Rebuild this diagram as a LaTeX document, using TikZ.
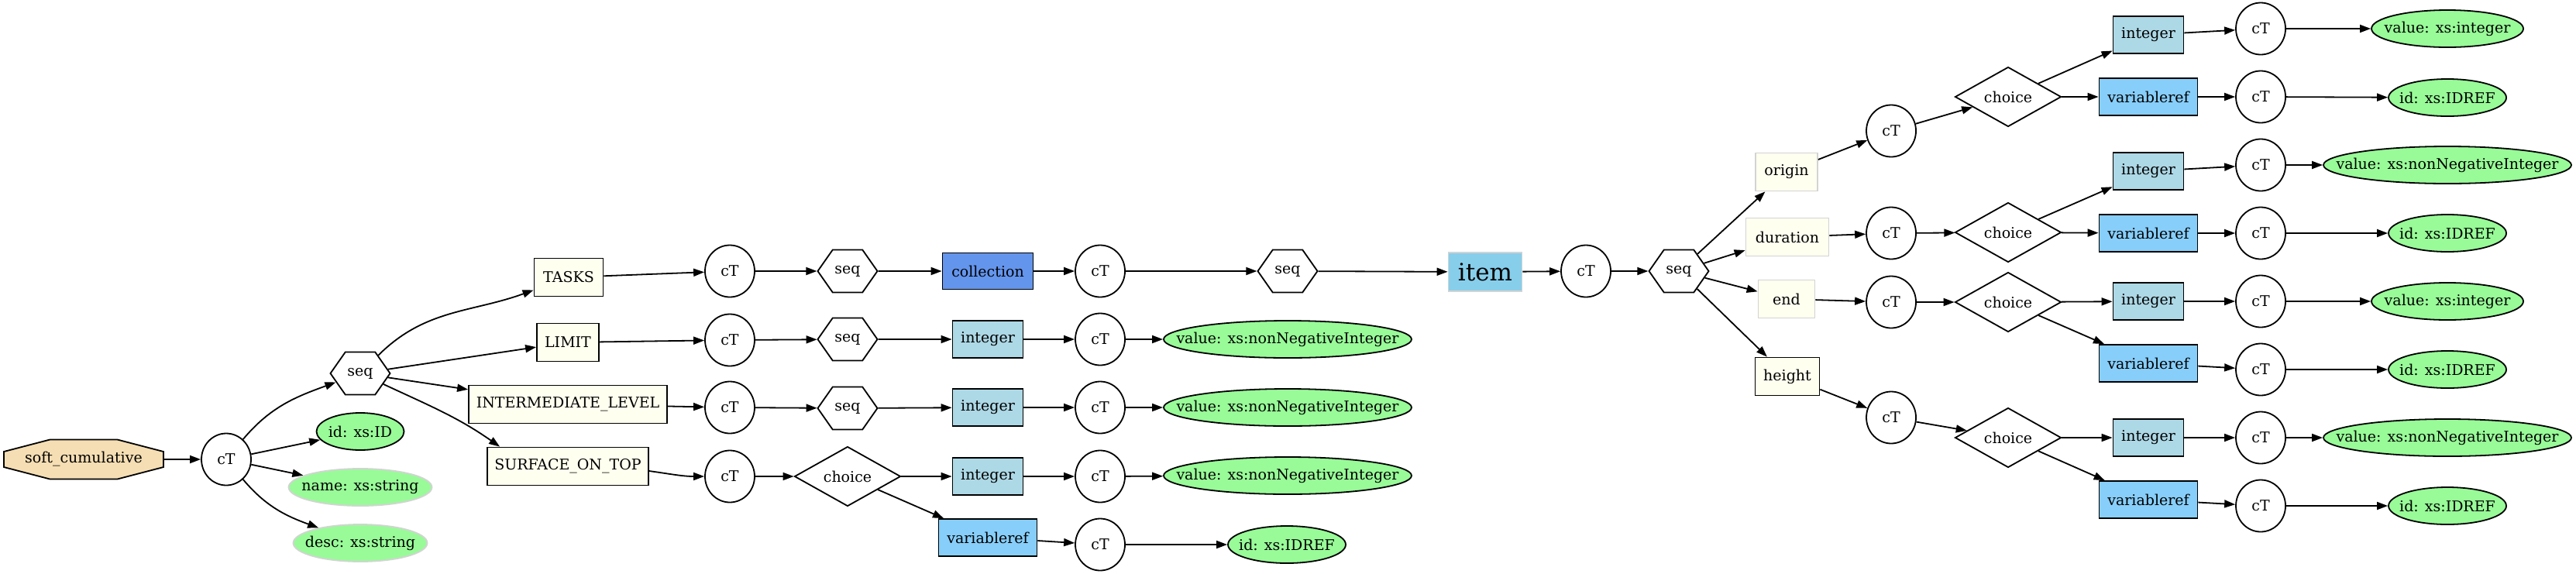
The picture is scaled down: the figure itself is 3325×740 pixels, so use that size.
\documentclass[tikz,border=0pt]{standalone}
\usepackage{fontspec}
\setmainfont{DejaVu Serif}
\usetikzlibrary{shapes.geometric,shapes.symbols,arrows.meta}
\definecolor{wheatc}{HTML}{F5DEB3}
\definecolor{ivoryc}{HTML}{FFFFF0}
\definecolor{cornflower}{HTML}{6495ED}
\definecolor{lblue}{HTML}{ADD8E6}
\definecolor{lskyblue}{HTML}{87CEFA}
\definecolor{skyb}{HTML}{87CEEB}
\definecolor{pgreen}{HTML}{98FB98}
\definecolor{lgrey}{HTML}{D3D3D3}
\begin{document}
\begin{tikzpicture}[x=1pt,y=1pt,
  base/.style={font=\fontsize{19}{23}\selectfont, inner sep=0pt, line width=1.8pt, text=black},
  zerow/.style={execute at begin node={\hbox to 0pt\bgroup\hss}, execute at end node={\hss\egroup}},
  ct/.style={base, ellipse, draw, fill=white, minimum width=64pt, minimum height=67pt},
  hexa/.style={base, signal, signal to=east and west, signal pointer angle=110, draw, fill=white, minimum width=77pt, minimum height=55pt},
  chc/.style={base, diamond, draw, fill=white, minimum width=137pt, minimum height=66pt},
  octlabel/.style={base, rectangle, minimum width=206pt, minimum height=51pt},
  leaf/.style={base, zerow, ellipse, draw, fill=pgreen, minimum height=48pt},
  leafg/.style={base, zerow, ellipse, draw=lgrey, fill=pgreen, minimum height=48pt},
  elb/.style={base, rectangle, draw, fill=ivoryc, minimum height=49pt},
  elg/.style={base, rectangle, draw=lgrey, fill=ivoryc, minimum height=49pt},
  intb/.style={base, rectangle, draw, fill=lblue, minimum width=91pt, minimum height=48pt},
  vrb/.style={base, rectangle, draw, fill=lskyblue, minimum width=127pt, minimum height=48pt},
  arr/.style={line width=1.8pt, -{Triangle[length=14pt,width=10pt]}}
]
\useasboundingbox (0,0) rectangle (3325,-740);
% left group: octagon outline drawn under its label node
\draw[line width=1.8pt, fill=wheatc] (5,-583) -- (64.5,-567.5) -- (151.5,-567.5) -- (211,-583)
  -- (211,-603) -- (151.5,-618.5) -- (64.5,-618.5) -- (5,-603) -- cycle;
\node[octlabel] (sc) at (108,-593) {soft\_cumulative};
\node[ct] (c0) at (292,-593) {cT};
\node[hexa] (s0) at (465,-482) {seq};
\node[leaf, minimum width=113pt] (a0) at (465,-557) {id: xs:ID};
\node[leafg, minimum width=185pt] (a1) at (465,-629) {name: xs:string};
\node[leafg, minimum width=173pt] (a2) at (465,-701) {desc: xs:string};
\node[elb, minimum width=89pt] (tasks) at (734,-358) {TASKS};
\node[elb, minimum width=80pt] (limit) at (733,-442) {LIMIT};
\node[elb, minimum width=256pt] (il) at (733,-522) {INTERMEDIATE\_LEVEL};
\node[elb, minimum width=208pt] (sot) at (733,-602) {SURFACE\_ON\_TOP};
% middle rows
\node[ct] (c1) at (942,-350) {cT};
\node[ct] (c2) at (942,-439) {cT};
\node[ct] (c3) at (942,-526) {cT};
\node[ct] (c4) at (942,-615) {cT};
\node[hexa] (s1) at (1094,-350) {seq};
\node[hexa] (s2) at (1094,-438) {seq};
\node[hexa] (s3) at (1094,-527) {seq};
\node[chc] (h4) at (1094,-615) {choice};
\node[base, rectangle, draw, fill=cornflower, minimum width=117pt, minimum height=47pt] (coll) at (1275,-350) {collection};
\node[intb] (i2) at (1275,-438) {integer};
\node[intb] (i3) at (1275,-526) {integer};
\node[intb] (i4) at (1275,-615) {integer};
\node[vrb] (v4) at (1275,-694) {variableref};
\node[ct] (c5) at (1420,-350) {cT};
\node[ct] (c6) at (1420,-438) {cT};
\node[ct] (c7) at (1420,-526) {cT};
\node[ct] (c8) at (1420,-615) {cT};
\node[ct] (c8b) at (1420,-703) {cT};
\node[hexa] (s5) at (1662,-350) {seq};
\node[leaf, minimum width=320pt] (l6) at (1662,-438) {value: xs:nonNegativeInteger};
\node[leaf, minimum width=320pt] (l7) at (1662,-526) {value: xs:nonNegativeInteger};
\node[leaf, minimum width=320pt] (l8) at (1662,-614) {value: xs:nonNegativeInteger};
\node[leaf, minimum width=152pt] (l8b) at (1661,-703) {id: xs:IDREF};
\node[base, rectangle, draw=lgrey, fill=skyb, minimum width=95pt, minimum height=50pt, font=\fontsize{31}{36}\selectfont] (item) at (1917,-351) {item};
\node[ct] (c9) at (2047,-350) {cT};
\node[hexa] (s9) at (2167,-350) {seq};
\node[elg, minimum width=80pt] (orig) at (2306,-222) {origin};
\node[elg, minimum width=107pt] (dur) at (2307,-306) {duration};
\node[elg, minimum width=73pt] (endn) at (2306,-386) {end};
\node[elb, minimum width=83pt] (hgt) at (2307,-486) {height};
% origin group
\node[ct] (cto) at (2441,-169) {cT};
\node[chc] (cho) at (2592,-125) {choice};
\node[intb] (io) at (2773,-45) {integer};
\node[vrb] (vo) at (2773,-125) {variableref};
\node[ct] (cio) at (2918,-37) {cT};
\node[ct] (cvo) at (2918,-125) {cT};
\node[leaf, minimum width=196pt] (lio) at (3159,-37) {value: xs:integer};
\node[leaf, minimum width=152pt] (lvo) at (3159,-126) {id: xs:IDREF};
% duration group
\node[ct] (ctd) at (2441,-301) {cT};
\node[chc] (chd) at (2592,-300) {choice};
\node[intb] (idd) at (2773,-221) {integer};
\node[vrb] (vd) at (2773,-301) {variableref};
\node[ct] (cid) at (2918,-213) {cT};
\node[ct] (cvd) at (2918,-301) {cT};
\node[leaf, minimum width=320pt] (lid) at (3159,-213) {value: xs:nonNegativeInteger};
\node[leaf, minimum width=152pt] (lvd) at (3159,-301) {id: xs:IDREF};
% end group
\node[ct] (cte) at (2441,-390) {cT};
\node[chc] (che) at (2592,-390) {choice};
\node[intb] (ie) at (2773,-389) {integer};
\node[vrb] (ve) at (2773,-469) {variableref};
\node[ct] (cie) at (2918,-389) {cT};
\node[ct] (cve) at (2918,-477) {cT};
\node[leaf, minimum width=196pt] (lie) at (3159,-389) {value: xs:integer};
\node[leaf, minimum width=152pt] (lve) at (3159,-477) {id: xs:IDREF};
% height group
\node[ct] (cth) at (2441,-539) {cT};
\node[chc] (chh) at (2592,-565) {choice};
\node[intb] (ih) at (2773,-565) {integer};
\node[vrb] (vh) at (2773,-645) {variableref};
\node[ct] (cih) at (2918,-565) {cT};
\node[ct] (cvh) at (2918,-653) {cT};
\node[leaf, minimum width=320pt] (lih) at (3159,-565) {value: xs:nonNegativeInteger};
\node[leaf, minimum width=152pt] (lvh) at (3159,-653) {id: xs:IDREF};
% edges left
\draw[arr] (sc) -- (c0);
\draw[arr] (c0) to[out=50,in=200] (s0);
\draw[arr] (c0) -- (a0);
\draw[arr] (c0) -- (a1);
\draw[arr] (c0) to[out=-50,in=160] (a2);
\draw[arr] (s0) to[out=45,in=200] (tasks);
\draw[arr] (s0) -- (limit);
\draw[arr] (s0) -- (il);
\draw[arr] (s0) to[out=-25,in=145] ([xshift=17pt]sot.north west);
\draw[arr] (tasks) -- (c1);
\draw[arr] (limit) -- (c2);
\draw[arr] (il) -- (c3);
\draw[arr] ([yshift=-6pt]sot.east) to[out=-8,in=180] (c4.west);
% middle rows
\draw[arr] (c1) -- (s1);
\draw[arr] (s1) -- (coll);
\draw[arr] (coll) -- (c5);
\draw[arr] (c5) -- (s5);
\draw[arr] (s5) -- (item);
\draw[arr] (item) -- (c9);
\draw[arr] (c9) -- (s9);
\draw[arr] (c2) -- (s2);
\draw[arr] (s2) -- (i2);
\draw[arr] (i2) -- (c6);
\draw[arr] (c6) -- (l6);
\draw[arr] (c3) -- (s3);
\draw[arr] (s3) -- (i3);
\draw[arr] (i3) -- (c7);
\draw[arr] (c7) -- (l7);
\draw[arr] (c4) -- (h4);
\draw[arr] (h4) -- (i4);
\draw[arr] (i4) -- (c8);
\draw[arr] (c8) -- (l8);
\draw[arr] (h4) -- (v4);
\draw[arr] (v4) -- (c8b);
\draw[arr] (c8b) -- (l8b);
% right
\draw[arr] (s9) -- (orig);
\draw[arr] (s9) -- (dur);
\draw[arr] (s9) -- (endn);
\draw[arr] (s9) -- (hgt);
\draw[arr] (orig) -- (cto);
\draw[arr] (dur) -- (ctd);
\draw[arr] (endn) -- (cte);
\draw[arr] (hgt) -- (cth);
\draw[arr] (cto) -- (cho);
\draw[arr] (ctd) -- (chd);
\draw[arr] (cte) -- (che);
\draw[arr] (cth) -- (chh);
\draw[arr] (cho) -- (io);
\draw[arr] (cho) -- (vo);
\draw[arr] (chd) -- (idd);
\draw[arr] (chd) -- (vd);
\draw[arr] (che) -- (ie);
\draw[arr] (che) -- (ve);
\draw[arr] (chh) -- (ih);
\draw[arr] (chh) -- (vh);
\draw[arr] (io) -- (cio);
\draw[arr] (vo) -- (cvo);
\draw[arr] (idd) -- (cid);
\draw[arr] (vd) -- (cvd);
\draw[arr] (ie) -- (cie);
\draw[arr] (ve) -- (cve);
\draw[arr] (ih) -- (cih);
\draw[arr] (vh) -- (cvh);
\draw[arr] (cio) -- (lio);
\draw[arr] (cvo) -- (lvo);
\draw[arr] (cid) -- (lid);
\draw[arr] (cvd) -- (lvd);
\draw[arr] (cie) -- (lie);
\draw[arr] (cve) -- (lve);
\draw[arr] (cih) -- (lih);
\draw[arr] (cvh) -- (lvh);
\end{tikzpicture}
\end{document}
